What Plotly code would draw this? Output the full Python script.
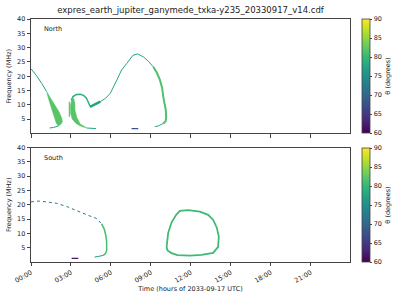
import pandas as pd
import plotly.graph_objects as go
from plotly.subplots import make_subplots
from plotly.colors import sample_colorscale

# ---------------- data (hours since 2033-09-17 00:00, frequency MHz, theta deg) -------------
# North
n_tail_t = [0.0, 0.4, 0.8, 1.18]
n_tail_f = [22.6, 20.3, 17.5, 14.6]
n_wedge_t = [1.18, 1.5, 1.85, 2.1, 2.3, 2.36, 2.25, 2.05, 1.9, 1.75, 1.6, 1.45, 1.3, 1.18]
n_wedge_f = [14.6, 12.3, 9.6, 7.6, 5.5, 4.2, 3.2, 2.6, 3.6, 5.6, 7.6, 10.0, 12.4, 14.3]
n_wedge_tail_t = [2.05, 1.7, 1.3, 0.8]
n_wedge_tail_f = [2.6, 2.1, 1.85, 1.75]
n_bar_t = [2.88, 2.88]
n_bar_f = [5.8, 11.1]
n_hook_line_t = [3.02, 3.15, 3.4, 3.7, 3.95, 4.15, 4.3, 4.43]
n_hook_line_f = [11.5, 12.9, 13.6, 13.7, 13.3, 12.4, 11.0, 9.5]
n_hook_t = [3.05, 2.95, 2.97, 3.1, 3.4, 3.8, 4.2, 3.7, 3.45, 3.3, 3.3, 3.2, 3.05]
n_hook_f = [11.7, 9.5, 7.0, 5.0, 3.4, 2.4, 1.9, 3.3, 5.5, 8.2, 10.5, 12.3, 11.7]
n_hook_tail_t = [4.2, 4.5, 4.9]
n_hook_tail_f = [1.9, 1.75, 1.7]
n_rise_t = [4.43, 4.7, 5.2, 5.6, 5.95, 6.45, 6.8, 7.2, 7.65, 8.0, 8.43, 8.8, 9.18]
n_rise_f = [9.3, 9.9, 11.1, 12.3, 14.0, 18.7, 22.2, 24.5, 27.3, 27.8, 26.8, 25.3, 23.3]
n_fall_t = [9.18, 9.45, 9.68, 9.85, 9.93, 10.05, 10.12, 10.15, 10.1, 9.93]
n_fall_f = [23.3, 21.2, 18.7, 15.8, 12.8, 10.0, 8.2, 5.5, 4.2, 3.5]
n_fall_tail_t = [9.93, 9.55, 9.18, 8.9]
n_fall_tail_f = [3.5, 2.6, 2.3, 1.9]
n_blue_t = [7.55, 8.05]
n_blue_f = [1.7, 1.7]

# South
s_arc_t = [0.0, 0.55, 1.18, 1.93, 2.68, 3.43, 4.18, 4.93, 5.3]
s_arc_f = [21.0, 21.3, 21.0, 20.5, 19.4, 17.9, 16.5, 15.2, 13.3]
s_vert_t = [5.3, 5.5, 5.63, 5.68, 5.68, 5.6, 5.43]
s_vert_f = [13.3, 11.5, 9.0, 7.0, 4.0, 3.0, 2.3]
s_tail_t = [5.43, 4.93, 4.55]
s_tail_f = [2.3, 1.7, 1.5]
s_purple_t = [3.05, 3.55]
s_purple_f = [1.3, 1.3]
s_loop_t = [10.18, 10.3, 10.55, 10.9, 11.18, 11.8, 12.68, 13.3, 13.68, 13.95, 14.1, 14.05,
            13.68, 12.8, 11.93, 11.0, 10.55, 10.25, 10.18]
s_loop_f = [5.3, 10.2, 13.8, 16.5, 17.9, 18.1, 17.6, 16.5, 14.7, 12.0, 8.9, 5.3,
            3.2, 2.5, 2.2, 2.4, 3.1, 4.0, 5.3]

# theta (degrees) of each feature
theta = dict(n_tail=77, n_wedge=82, n_wedge_tail=77, n_bar=82, n_hook_line=79, n_hook=82,
             n_hook_tail=77, n_rise=77.5, n_fall=81.5, n_fall_tail=78, n_blue=68,
             s_arc=72, s_vert=81, s_tail=77, s_purple=61.5, s_loop=80.5)

title = "expres_earth_jupiter_ganymede_txka-y235_20330917_v14.cdf"
x_label = "Time (hours of 2033-09-17 UTC)"
y_label = "Frequency (MHz)"
cb_label = "θ (degrees)"
y_ticks = [5, 10, 15, 20, 25, 30, 35, 40]
cb_ticks = [60, 65, 70, 75, 80, 85, 90]

# ---------------- figure -------------
base = pd.Timestamp("2033-09-17 00:00:00")


def tt(hours):
    return base + pd.to_timedelta(pd.Series(hours), unit="h")


def col(th):
    return sample_colorscale("Viridis", [(th - 60) / 30])[0]


FONT = "DejaVu Sans"
TXT = "#222222"
fig = make_subplots(rows=2, cols=1, shared_xaxes=True, vertical_spacing=0.058)


def line(t, f, key, row, width=1.0, dash="solid"):
    fig.add_trace(go.Scatter(x=tt(t), y=f, mode="lines", line=dict(color=col(theta[key]), width=width, dash=dash),
                             hoverinfo="skip", showlegend=False), row=row, col=1)


def poly(t, f, key, row):
    c = col(theta[key])
    fig.add_trace(go.Scatter(x=tt(t), y=f, mode="lines", fill="toself", fillcolor=c,
                             line=dict(color=c, width=0.5), hoverinfo="skip", showlegend=False), row=row, col=1)


# North
line(n_tail_t, n_tail_f, "n_tail", 1, 1.0)
poly(n_wedge_t, n_wedge_f, "n_wedge", 1)
line(n_wedge_tail_t, n_wedge_tail_f, "n_wedge_tail", 1, 1.0, "dash")
line(n_bar_t, n_bar_f, "n_bar", 1, 1.2)
line(n_hook_line_t, n_hook_line_f, "n_hook_line", 1, 1.5)
poly(n_hook_t, n_hook_f, "n_hook", 1)
line(n_hook_tail_t, n_hook_tail_f, "n_hook_tail", 1, 1.0, "dash")
line(n_rise_t[:3], n_rise_f[:3], "n_rise", 1, 2.5)
line(n_rise_t, n_rise_f, "n_rise", 1, 1.0)
line(n_fall_t, n_fall_f, "n_fall", 1, 2.0)
line(n_fall_tail_t, n_fall_tail_f, "n_fall_tail", 1, 1.0, "dash")
line(n_blue_t, n_blue_f, "n_blue", 1, 1.2)

# South
line(s_arc_t, s_arc_f, "s_arc", 2, 1.0, "dot")
line(s_vert_t, s_vert_f, "s_vert", 2, 1.5)
line(s_tail_t, s_tail_f, "s_tail", 2, 1.0, "dash")
line(s_purple_t, s_purple_f, "s_purple", 2, 1.3)
line(s_loop_t, s_loop_f, "s_loop", 2, 1.8)

# colorbars
for row, (yy, anchor) in enumerate([(1.0, "top"), (0.0, "bottom")], start=1):
    fig.add_trace(go.Scatter(
        x=[None], y=[None], mode="markers", showlegend=False, hoverinfo="skip",
        marker=dict(color=[60], colorscale="Viridis", cmin=60, cmax=90, showscale=True,
                    colorbar=dict(x=1.037, xanchor="left", y=yy, yanchor=anchor, len=0.471, lenmode="fraction",
                                  thickness=8, outlinewidth=0.8, outlinecolor="#444", xpad=0, ypad=0,
                                  tickvals=cb_ticks, ticks="outside", ticklen=2.5, tickcolor="#444",
                                  tickfont=dict(size=6.5, family=FONT, color=TXT),
                                  title=dict(text=cb_label, side="right", font=dict(size=6.5, family=FONT, color=TXT))))
    ), row=row, col=1)

xr = [base, base + pd.Timedelta(hours=23.95)]
for r in (1, 2):
    fig.update_xaxes(row=r, col=1, range=xr, type="date", dtick=3 * 3600 * 1000, tick0=base,
                     tickformat="%H:%M", showgrid=False, zeroline=False, showline=True, mirror=True,
                     linecolor="#444", linewidth=0.8, ticks="outside", ticklen=3.5, tickwidth=0.8,
                     tickcolor="#444", tickangle=-30, tickfont=dict(size=6.5, family=FONT, color=TXT))
    fig.update_yaxes(row=r, col=1, range=[0, 40], tickvals=y_ticks, showgrid=False, zeroline=False,
                     showline=True, mirror=True, linecolor="#444", linewidth=0.8, ticks="outside",
                     ticklen=3.5, tickwidth=0.8, tickcolor="#444",
                     tickfont=dict(size=6.5, family=FONT, color=TXT),
                     title=dict(text=y_label, font=dict(size=6.5, family=FONT, color=TXT), standoff=4))
fig.update_xaxes(row=1, col=1, showticklabels=False)
fig.update_xaxes(row=2, col=1, title=dict(text=x_label, font=dict(size=6.5, family=FONT, color=TXT), standoff=2))

fig.add_annotation(text="North", xref="x domain", yref="y domain", x=0.035, y=0.91, showarrow=False,
                   xanchor="left", yanchor="middle", font=dict(size=6.5, family=FONT, color=TXT))
fig.add_annotation(text="South", xref="x2 domain", yref="y2 domain", x=0.035, y=0.91, showarrow=False,
                   xanchor="left", yanchor="middle", font=dict(size=6.5, family=FONT, color=TXT))

fig.update_layout(
    width=400, height=300, margin=dict(l=31, r=50, t=19, b=38, autoexpand=False),
    paper_bgcolor="white", plot_bgcolor="white",
    title=dict(text=title, x=0.5, xref="paper", y=1 - 10 / 300, yanchor="middle",
               font=dict(size=8.5, family=FONT, color=TXT)),
)

fig.write_html("out.html")
